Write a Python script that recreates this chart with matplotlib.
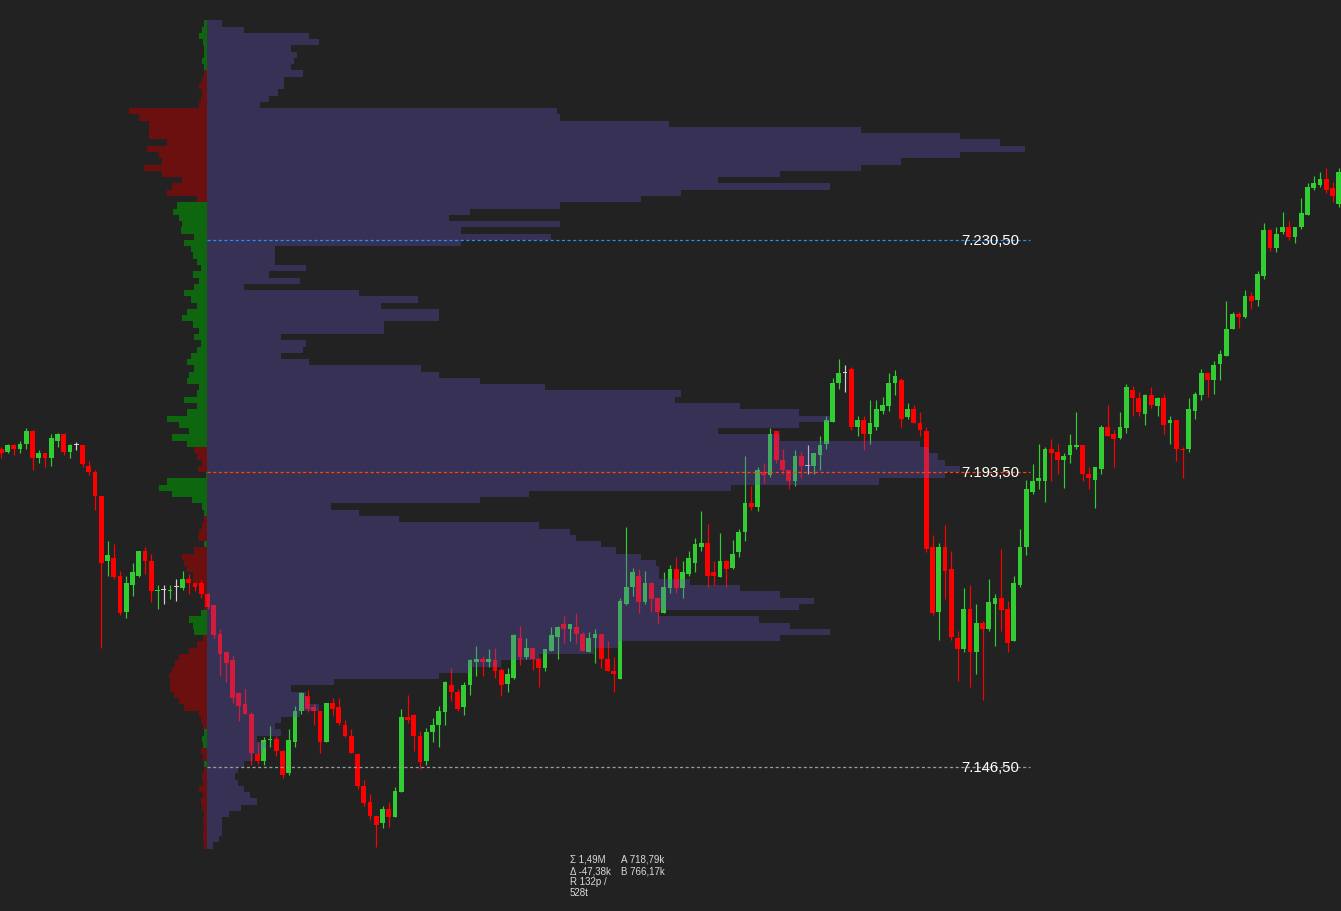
import numpy as np
import matplotlib
matplotlib.use("Agg")
import matplotlib.pyplot as plt

# ---------------- data ----------------
opens = [7197.25,7196.75,7197.75,7197.25,7198.0,7200.0,7195.75,7196.5,7195.75,7198.5,
         7199.5,7196.75,7197.75,7197.75,7194.5,7193.5,7189.75,7179.25,7179.75,7177.0,
         7171.25,7175.5,7177.0,7181.0,7179.25,7174.5,7174.75,7174.5,7175.25,7175.0,
         7176.5,7175.75,7175.75,7174.0,7172.25,7167.75,7164.75,7163.5,7158.25,7156.5,
         7155.0,7148.5,7147.5,7150.75,7151.0,7149.0,7145.5,7150.5,7155.5,7157.75,
         7156.0,7155.5,7150.5,7156.75,7156.0,7153.25,7151.5,7148.5,7143.5,7141.0,
         7138.75,7137.5,7139.75,7138.5,7142.5,7154.5,7154.75,7151.5,7147.5,7152.0,
         7153.25,7155.25,7159.5,7158.5,7156.0,7159.5,7163.25,7163.75,7163.25,7163.5,
         7162.0,7159.75,7160.75,7167.0,7164.0,7165.5,7163.75,7162.25,7165.0,7167.25,
         7169.25,7168.5,7168.75,7167.75,7164.75,7167.0,7167.75,7163.75,7161.75,7160.5,
         7172.5,7175.25,7177.0,7172.75,7175.75,7173.5,7171.0,7175.0,7178.0,7175.0,
         7177.25,7179.0,7181.5,7182.25,7177.5,7176.75,7179.25,7178.25,7180.75,7184.0,
         7188.5,7188.0,7193.5,7193.0,7200.0,7195.5,7193.75,7192.0,7196.0,7194.5,
         7194.5,7196.25,7198.0,7201.5,7207.75,7209.25,7210.0,7200.75,7201.75,7199.5,
         7200.75,7203.25,7204.0,7207.75,7208.25,7202.25,7203.5,7201.25,7200.0,7181.5,
         7171.25,7181.5,7178.0,7167.0,7165.25,7171.75,7164.75,7169.5,7168.5,7172.5,
         7173.5,7171.75,7166.5,7175.5,7181.5,7190.25,7192.0,7192.0,7197.25,7196.75,
         7195.5,7196.25,7197.5,7197.75,7193.25,7192.25,7194.0,7200.75,7199.5,7199.0,
         7200.5,7206.5,7205.25,7202.75,7205.75,7204.0,7205.25,7201.25,7201.75,7197.25,
         7197.25,7203.25,7205.75,7209.25,7208.25,7210.75,7212.0,7216.25,7218.75,7218.25,
         7221.5,7221.0,7224.75,7232.0,7229.25,7231.75,7232.5,7231.0,7232.5,7234.5,
         7238.75,7239.25,7240.25,7238.75,7236.25]
highs = [7197.5,7198.0,7198.0,7198.5,7200.5,7200.25,7197.0,7196.5,7199.5,7199.75,
         7199.75,7198.0,7198.25,7197.75,7195.25,7193.75,7189.75,7182.5,7182.0,7177.75,
         7177.0,7179.0,7181.0,7181.5,7180.5,7175.5,7175.5,7175.5,7176.5,7177.75,
         7177.25,7175.75,7176.25,7174.25,7172.25,7168.5,7165.0,7164.25,7158.5,7159.0,
         7155.25,7150.5,7151.25,7153.0,7151.5,7149.25,7152.5,7156.25,7158.5,7158.75,
         7156.5,7155.5,7156.75,7157.5,7157.5,7154.0,7152.5,7148.75,7144.5,7142.25,
         7138.75,7140.25,7141.0,7143.25,7155.75,7158.0,7155.0,7152.25,7152.75,7154.25,
         7156.25,7160.25,7162.25,7159.0,7160.0,7163.75,7165.75,7164.25,7165.25,7165.5,
         7162.25,7162.25,7167.75,7169.0,7167.0,7165.5,7164.0,7165.25,7168.75,7169.0,
         7170.5,7169.25,7171.0,7168.0,7168.0,7168.5,7167.75,7166.5,7164.0,7173.5,
         7184.75,7178.25,7178.0,7177.75,7176.0,7173.5,7177.5,7178.75,7180.0,7179.25,
         7181.0,7183.0,7187.25,7185.25,7179.25,7183.75,7179.5,7182.75,7184.5,7196.0,
         7191.25,7194.25,7195.0,7200.5,7200.0,7197.25,7193.75,7197.0,7196.75,7197.75,
         7196.5,7199.25,7202.5,7208.5,7211.5,7210.5,7210.25,7202.5,7202.5,7205.0,
         7205.0,7205.5,7209.25,7209.75,7208.5,7204.5,7204.25,7203.0,7200.75,7183.5,
         7182.25,7185.0,7181.0,7168.25,7175.0,7175.5,7172.5,7169.75,7176.5,7174.0,
         7181.25,7173.0,7177.0,7184.5,7192.25,7194.75,7198.0,7197.5,7198.75,7198.0,
         7196.5,7199.5,7203.0,7197.75,7194.25,7194.25,7201.0,7204.25,7200.25,7203.0,
         7207.5,7207.25,7206.25,7206.0,7207.0,7205.5,7206.0,7202.5,7201.75,7197.5,
         7205.25,7206.25,7210.0,7209.25,7211.25,7213.0,7220.75,7219.0,7219.0,7222.5,
         7222.25,7225.5,7233.25,7232.25,7232.5,7235.0,7233.5,7232.5,7237.25,7239.5,
         7240.75,7241.25,7242.0,7239.75,7242.0]
lows = [7195.75,7196.5,7196.25,7196.5,7197.25,7193.75,7195.0,7194.25,7194.5,7197.5,
        7196.25,7195.75,7197.0,7194.25,7193.0,7187.5,7165.5,7177.0,7176.5,7170.75,
        7170.25,7173.75,7176.75,7177.25,7172.75,7171.75,7172.5,7173.25,7173.0,7174.75,
        7174.0,7174.5,7173.5,7171.75,7167.0,7161.0,7160.0,7156.75,7153.75,7155.0,
        7146.75,7147.0,7146.75,7149.75,7148.25,7144.75,7145.25,7149.75,7155.0,7155.25,
        7153.25,7148.75,7150.5,7154.75,7153.25,7151.25,7148.75,7143.0,7140.25,7138.0,
        7133.75,7136.75,7137.0,7138.5,7142.5,7153.5,7149.0,7146.25,7146.75,7150.5,
        7149.75,7153.25,7157.0,7155.5,7154.75,7158.0,7161.0,7161.0,7162.5,7160.75,
        7157.75,7158.5,7160.5,7162.75,7163.75,7162.0,7159.25,7161.75,7165.0,7163.75,
        7166.25,7166.5,7166.25,7165.0,7164.75,7163.0,7162.25,7161.75,7158.5,7160.5,
        7172.25,7173.75,7171.0,7172.5,7171.25,7169.25,7171.0,7174.25,7174.25,7173.5,
        7177.0,7177.5,7181.0,7175.25,7175.5,7176.75,7175.25,7178.0,7180.0,7182.5,
        7187.5,7187.25,7191.75,7192.75,7195.0,7193.25,7190.75,7191.25,7192.5,7193.25,
        7193.25,7193.75,7197.25,7201.5,7206.75,7206.25,7200.25,7199.25,7197.0,7198.0,
        7200.25,7202.75,7203.25,7205.75,7200.75,7202.0,7201.25,7199.25,7180.75,7170.75,
        7166.75,7173.25,7166.75,7160.25,7164.75,7159.25,7161.25,7157.25,7168.25,7165.75,
        7168.25,7164.75,7166.5,7175.25,7180.25,7190.0,7190.75,7188.75,7192.0,7193.25,
        7191.0,7195.0,7197.25,7192.0,7190.75,7187.75,7193.25,7199.25,7194.25,7198.75,
        7199.75,7202.5,7202.5,7201.0,7203.75,7202.5,7199.5,7198.0,7195.25,7192.5,
        7196.75,7202.0,7205.0,7205.5,7206.0,7208.25,7212.0,7216.25,7216.5,7218.0,
        7219.5,7220.0,7224.25,7228.75,7228.5,7231.5,7230.5,7230.0,7232.25,7234.5,
        7238.5,7239.0,7238.0,7236.5,7235.75]
closes = [7196.5,7197.75,7197.25,7198.0,7200.0,7195.75,7196.5,7195.75,7199.0,7199.5,
          7196.75,7197.75,7197.75,7194.75,7193.5,7189.75,7179.0,7180.25,7176.75,7171.0,
          7175.75,7177.5,7181.0,7179.25,7174.5,7174.75,7174.75,7174.75,7175.25,7176.5,
          7175.75,7175.25,7174.0,7172.0,7167.5,7164.5,7163.0,7157.5,7156.25,7155.0,
          7148.75,7147.5,7150.75,7151.0,7149.0,7145.25,7150.75,7155.5,7158.25,7155.75,
          7155.5,7150.5,7156.75,7155.75,7153.5,7151.5,7148.75,7143.5,7140.75,7138.75,
          7137.25,7139.75,7138.5,7142.75,7154.5,7154.0,7151.5,7147.25,7152.0,7153.25,
          7155.5,7160.0,7158.5,7155.75,7159.5,7163.5,7163.75,7163.25,7163.75,7161.75,
          7159.5,7161.25,7167.5,7164.0,7165.5,7163.75,7162.25,7165.25,7167.5,7168.75,
          7168.5,7169.25,7167.75,7165.0,7167.0,7167.75,7163.75,7161.75,7161.25,7173.0,
          7175.25,7177.5,7172.75,7175.75,7173.25,7171.25,7175.25,7178.0,7175.0,7177.5,
          7179.75,7182.0,7182.25,7177.0,7177.0,7179.25,7178.0,7180.5,7184.0,7188.5,
          7188.0,7193.75,7193.0,7199.5,7195.5,7193.75,7192.0,7196.0,7194.5,7194.5,
          7196.5,7197.75,7201.75,7207.75,7209.25,7209.25,7200.75,7201.75,7199.5,7201.25,
          7203.5,7204.25,7207.75,7208.75,7202.0,7203.5,7201.25,7200.25,7181.25,7171.0,
          7181.5,7177.75,7167.25,7165.25,7171.75,7164.75,7169.5,7168.5,7172.75,7173.5,
          7171.5,7166.25,7175.75,7181.5,7190.75,7192.0,7192.5,7197.25,7196.5,7195.5,
          7196.0,7197.75,7197.75,7193.25,7192.5,7194.25,7200.75,7199.25,7198.75,7200.75,
          7207.0,7205.25,7203.0,7205.75,7204.25,7205.25,7201.0,7201.75,7197.25,7197.0,
          7203.5,7206.0,7209.25,7208.25,7210.5,7212.25,7216.25,7218.75,7218.25,7221.5,
          7220.75,7225.0,7232.0,7229.25,7231.5,7232.5,7231.0,7232.5,7234.75,7239.0,
          7239.5,7240.25,7238.5,7237.5,7241.25]

# volume profile: 1-point rows starting at profile_low (thousands of contracts)
profile_low = 7133.5
row_size = 1.0
volume_k = [0.2,0.4,0.5,0.5,0.5,0.7,1.1,1.6,1.4,1.2,
            1.0,0.9,1.0,1.2,1.5,1.8,1.9,1.6,2.4,2.2,
            2.4,3.0,3.6,3.3,3.2,2.7,4.1,7.5,8.5,9.5,
            10.7,12.5,13.3,18.5,20.1,18.8,17.8,14.6,19.1,19.6,
            18.5,17.2,15.6,14.6,14.6,14.5,14.0,13.2,12.7,11.9,
            11.7,10.7,6.2,4.9,4.0,8.8,10.4,16.9,21.7,23.8,
            24.3,23.8,23.6,23.3,23.0,18.5,16.5,19.1,20.1,19.1,
            17.2,15.1,15.3,10.9,8.8,7.5,6.9,3.3,2.4,3.1,
            3.2,2.4,5.7,5.7,7.5,7.5,5.6,6.8,4.9,1.2,
            3.0,2.0,3.2,2.2,2.2,2.2,8.2,11.1,8.2,11.4,
            7.8,8.5,11.4,14.0,15.3,20.1,16.5,18.5,21.1,22.4,
            24.3,26.4,25.6,24.3,21.1,14.9,11.4,11.3,1.7,2.0,
            2.3,2.5,2.5,3.1,2.7,2.8,2.9,2.7,3.6,3.3,
            1.2,0.5]
delta_k = [-0.2,-0.3,-0.3,-0.2,-0.3,-0.2,-0.4,-0.5,-0.3,-0.6,
           -0.3,-0.4,-0.2,0.2,-0.3,-0.5,0.3,0.4,0.2,-0.3,
           -0.5,-0.6,-1.8,-2.2,-2.6,-2.9,-2.9,-3.0,-2.8,-2.5,
           -2.2,-1.4,-0.8,-0.3,1.0,1.1,1.4,0.5,-0.2,-0.2,
           -0.2,-0.4,-1.1,-1.1,-1.6,-1.8,-2.0,-1.0,0.2,-0.7,
           -0.6,-0.4,-0.2,0.2,0.4,1.2,2.8,3.8,3.2,0.1,
           -0.7,-0.4,-0.8,-1.0,1.6,2.8,1.4,2.2,3.2,1.6,
           0.8,1.8,0.8,0.6,1.6,1.4,1.0,1.6,1.3,0.8,
           0.5,1.0,0.6,1.1,2.0,1.6,0.8,1.3,1.8,1.0,
           0.6,1.1,0.5,0.8,1.1,1.3,1.8,1.0,2.1,2.0,
           2.2,2.7,2.4,-0.8,-3.2,-2.8,-2.0,-3.6,-5.0,-3.6,
           -3.8,-4.8,-3.2,-4.6,-4.6,-4.6,-5.4,-6.2,-0.6,-0.5,
           -0.4,-0.6,-0.4,-0.2,0.2,0.4,0.2,0.2,0.3,0.6,
           0.4,0.2]

level_prices = [7230.5, 7193.5, 7146.5]
level_labels = ["7.230,50", "7.193,50", "7.146,50"]
level_colors = ["#1E90FF", "#FF4500", "#9A9A9A"]

stats_left = ["\u03a3 1,49M", "\u0394 -47,38k", "R 132p /", "528t"]
stats_right = ["A 718,79k", "B 766,17k"]

# ---------------- layout ----------------
W, H = 1341, 912
BG = "#222222"
fig = plt.figure(figsize=(W / 100, H / 100), dpi=100, facecolor=BG)
ax = fig.add_axes([0, 0, 1, 1])
ax.set_facecolor(BG)
ax.set_xlim(-0.208, 214.35)
ax.set_ylim(7123.55, 7268.89)
ax.axis("off")

o = np.array(opens); hi = np.array(highs); lo = np.array(lows); c = np.array(closes)
x = np.arange(len(o))
cols = np.where(c > o, "#32CD32", np.where(c < o, "#FF0000", "#D3D3D3"))

ax.vlines(x, lo, hi, colors=cols, lw=0.85, zorder=2)
bottom = np.minimum(o, c)
height = np.maximum(np.abs(c - o), 0.17)
ax.bar(x, height, bottom=bottom, width=0.78, color=cols, linewidth=0, zorder=3)

# profile
base = 32.91
vol = np.array(volume_k)
dlt = np.array(delta_k)
rows = profile_low + row_size * np.arange(len(vol))
prof_len = vol / vol.max() * 130.9
edges = np.append(rows, rows[-1] + row_size)
ax.fill_betweenx(edges, base, base + np.append(prof_len, prof_len[-1]), step="post",
                 color="#6A5ACD", alpha=0.3, linewidth=0, zorder=4)

dlen = np.abs(dlt) / np.abs(dlt).max() * 12.5
dcols = np.where(dlt >= 0, "#0E660E", "#6B0F0F")
ax.barh(rows, -dlen, left=base, height=row_size, align="edge", color=dcols,
        linewidth=0, zorder=1)

for p, lab, col in zip(level_prices, level_labels, level_colors):
    ax.hlines(p, base, 164.6, colors=col, lw=0.9, linestyles=(0, (2.5, 2)), zorder=5)
    ax.text(162.8, p, lab, ha="right", va="center", color="white", fontsize=10.7,
            family=["Liberation Sans", "DejaVu Sans"], zorder=6)

for j, s in enumerate(stats_left):
    fig.text(570 / W, 1 - (860 + 11 * j) / H, s, ha="left", va="center", color="#DADADA",
             fontsize=7, family=["Liberation Sans", "DejaVu Sans"])
for j, s in enumerate(stats_right):
    fig.text(621 / W, 1 - (860 + 11 * j) / H, s, ha="left", va="center", color="#DADADA",
             fontsize=7, family=["Liberation Sans", "DejaVu Sans"])

fig.savefig("out.png", dpi=100, facecolor=BG)
